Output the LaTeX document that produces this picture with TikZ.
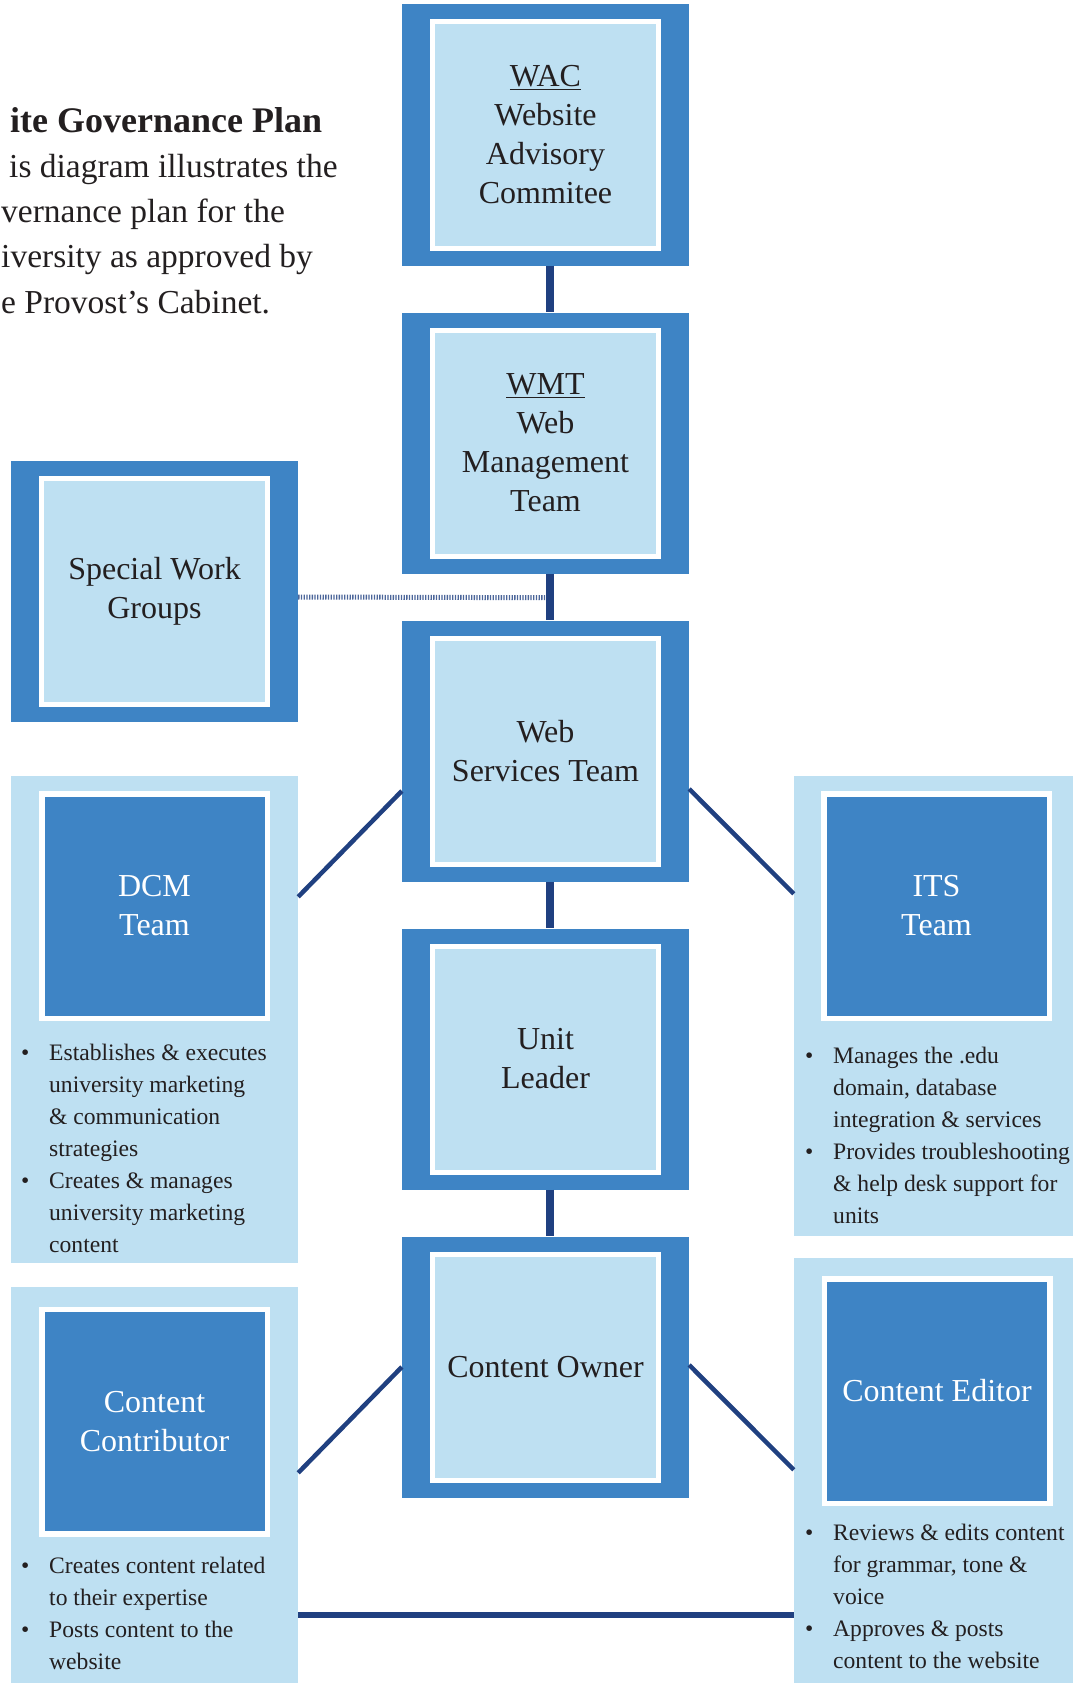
\documentclass[tikz,border=0pt]{standalone}
\usepackage{fontspec}
\setmainfont{Liberation Serif}
\usetikzlibrary{positioning}
\definecolor{boxblue}{RGB}{62,132,197}
\definecolor{paleblue}{RGB}{190,224,242}
\definecolor{navy}{RGB}{32,64,128}
\definecolor{inkgray}{RGB}{35,31,32}
\newcommand{\bul}{\makebox[28pt][l]{\textbullet}}
\newcommand{\listfont}{\fontsize{23.6}{32}\selectfont}
\tikzset{
  govbox/.style={rectangle, fill=boxblue, minimum width=287pt, minimum height=261pt,
    inner sep=0pt, align=center, text=inkgray, font=\fontsize{32}{39}\selectfont,
    path picture={
      \fill[white] ([shift={(28pt,-15pt)}]path picture bounding box.north west)
        rectangle ([shift={(-28pt,15pt)}]path picture bounding box.south east);
      \fill[paleblue] ([shift={(33pt,-20pt)}]path picture bounding box.north west)
        rectangle ([shift={(-33pt,20pt)}]path picture bounding box.south east);
    }},
  panel/.style={rectangle, fill=paleblue, minimum width=287pt, inner sep=0pt},
  rolebox/.style={rectangle, fill=boxblue, draw=white, line width=5.5pt,
    minimum width=225.5pt, minimum height=224.5pt, align=center, text=white,
    font=\fontsize{32}{39}\selectfont},
  bullets/.style={anchor=base west, inner sep=0pt, text=inkgray, font=\listfont},
  intro/.style={anchor=base west, inner sep=0pt, text=inkgray, font=\fontsize{33.5}{45}\selectfont},
  spine/.style={navy, line width=8pt},
  link/.style={navy, line width=4.5pt},
  dotlink/.style={navy!80, line width=5pt, dash pattern=on 1.3pt off 1.4pt}
}
\begin{document}
\begin{tikzpicture}[x=1pt,y=-1pt]
  \useasboundingbox (0,0) rectangle (1072,1683);
  \node[intro, font=\bfseries\fontsize{36}{45}\selectfont] (title) at (10,132) {ite Governance Plan};
  \node[intro] (intro1) at (9,177) {is diagram illustrates the};
  \node[intro] (intro2) at (1,222) {vernance plan for the};
  \node[intro] (intro3) at (1,267) {iversity as approved by};
  \node[intro] (intro4) at (1,313) {e Provost’s Cabinet.};

  \node[govbox] (WAC) at (545.5,135) {\underline{WAC}\\Website\\Advisory\\Commitee};
  \node[govbox] (WMT) at (545.5,443) {\underline{WMT}\\Web\\Management\\Team};
  \node[govbox] (WST) at (545.5,751) {Web\\Services Team};
  \node[govbox] (UL) at (545.5,1059) {Unit\\Leader};
  \node[govbox] (CO) at (545.5,1367) {Content Owner};
  \node[govbox] (SWG) at (154.5,591.5) {Special Work\\Groups};

  \node[panel, minimum height=487pt] (dcmpanel) at (154.5,1019.5) {};
  \node[panel, minimum height=460pt] (itspanel) at (937.5,1006) {};
  \node[panel, minimum height=403pt] (ccpanel) at (154.5,1488.5) {};
  \node[panel, minimum height=432pt] (cepanel) at (937.5,1474) {};

  \node[rolebox] (DCM) at (154.5,906) {DCM\\Team};
  \node[rolebox] (ITS) at (936.5,906) {ITS\\Team};
  \node[rolebox] (CC) at (154.5,1421.5) {Content\\Contributor};
  \node[rolebox] (CE) at (937,1391) {Content Editor};

  \node[bullets] (dcmlist) at (21,1060) {\listfont\begin{tabular}[t]{@{}l@{}l@{}}
    \bul & Establishes \& executes\\
    & university marketing\\
    & \& communication\\
    & strategies\\
    \bul & Creates \& manages\\
    & university marketing\\
    & content
  \end{tabular}};
  \node[bullets] (itslist) at (805,1063) {\listfont\begin{tabular}[t]{@{}l@{}l@{}}
    \bul & Manages the .edu\\
    & domain, database\\
    & integration \& services\\
    \bul & Provides troubleshooting\\
    & \& help desk support for\\
    & units
  \end{tabular}};
  \node[bullets] (cclist) at (21,1573) {\listfont\begin{tabular}[t]{@{}l@{}l@{}}
    \bul & Creates content related\\
    & to their expertise\\
    \bul & Posts content to the\\
    & website
  \end{tabular}};
  \node[bullets] (celist) at (805,1540) {\listfont\begin{tabular}[t]{@{}l@{}l@{}}
    \bul & Reviews \& edits content\\
    & for grammar, tone \&\\
    & voice\\
    \bul & Approves \& posts\\
    & content to the website
  \end{tabular}};

  \foreach \a/\b in {WAC/WMT,WMT/WST,WST/UL,UL/CO}
    \draw[spine] ([xshift=4pt]\a.south) -- ([xshift=4pt]\b.north);
  \draw[dotlink] ([yshift=-5.5pt]SWG.east) -- ([xshift=0pt,yshift=-24pt]WMT.south);
  \draw[link] ([yshift=-40pt]WST.west) -- ([yshift=-121pt]dcmpanel.north east);
  \draw[link] ([yshift=-38pt]WST.east) -- ([yshift=-118pt]itspanel.north west);
  \draw[link] (CO.west) -- ([yshift=-186pt]ccpanel.north east);
  \draw[link] ([yshift=2pt]CO.east) -- ([yshift=-212pt]cepanel.north west);
  \draw[link, line width=5.5pt] ([yshift=-328pt]ccpanel.north east) -- ([yshift=-357pt]cepanel.north west);
\end{tikzpicture}
\end{document}
